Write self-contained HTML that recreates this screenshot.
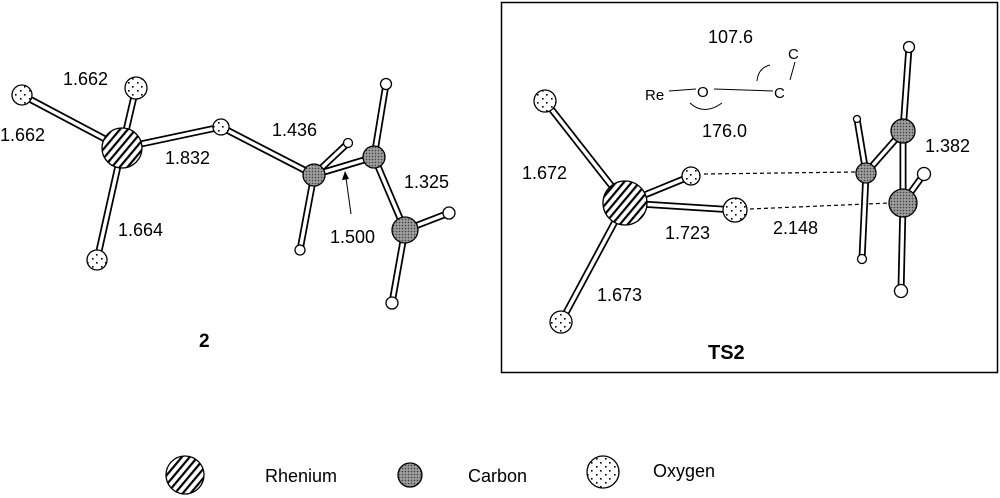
<!DOCTYPE html>
<html><head><meta charset="utf-8"><style>
html,body{margin:0;padding:0;background:#fff;}
svg{display:block;}
text{font-family:"Liberation Sans",sans-serif;font-size:18px;fill:#000;}
.b{stroke:#000;stroke-width:7;stroke-linecap:round;}
.bw{stroke:#fff;stroke-width:3.5;stroke-linecap:round;}
</style></head><body>
<svg width="1000" height="498" viewBox="0 0 1000 498" xmlns="http://www.w3.org/2000/svg">
<defs>
<pattern id="hatch" width="6" height="6" patternUnits="userSpaceOnUse" patternTransform="rotate(-50)">
<rect width="6" height="6" fill="#fff"/><rect width="6" height="2.2" fill="#000"/></pattern>
<pattern id="grey" width="3" height="3" patternUnits="userSpaceOnUse">
<rect width="3" height="3" fill="#888"/><rect width="1" height="1" fill="#444"/><rect x="1.5" y="1.5" width="1" height="1" fill="#ddd"/></pattern>
<pattern id="dots" width="9" height="8" patternUnits="userSpaceOnUse">
<rect width="9" height="8" fill="#fff"/><rect x="2" y="2" width="1.6" height="1.6" fill="#000"/><rect x="6" y="6" width="1.6" height="1.6" fill="#000"/></pattern>
</defs>
<g id="left">
<g class="b">
<line x1="22" y1="95" x2="122" y2="148"/><line x1="136" y1="88" x2="122" y2="148"/>
<line x1="97" y1="260" x2="122" y2="148"/><line x1="122" y1="148" x2="221" y2="127"/>
<line x1="221" y1="127" x2="314" y2="175"/><line x1="314" y1="175" x2="348" y2="143"/>
<line x1="314" y1="175" x2="300" y2="250"/><line x1="314" y1="175" x2="374" y2="157"/>
<line x1="374" y1="157" x2="386" y2="84"/><line x1="374" y1="157" x2="405" y2="230"/>
<line x1="405" y1="230" x2="449" y2="213"/><line x1="405" y1="230" x2="392" y2="303"/>
</g>
<g class="bw">
<line x1="22" y1="95" x2="122" y2="148"/><line x1="136" y1="88" x2="122" y2="148"/>
<line x1="97" y1="260" x2="122" y2="148"/><line x1="122" y1="148" x2="221" y2="127"/>
<line x1="221" y1="127" x2="314" y2="175"/><line x1="314" y1="175" x2="348" y2="143"/>
<line x1="314" y1="175" x2="300" y2="250"/><line x1="314" y1="175" x2="374" y2="157"/>
<line x1="374" y1="157" x2="386" y2="84"/><line x1="374" y1="157" x2="405" y2="230"/>
<line x1="405" y1="230" x2="449" y2="213"/><line x1="405" y1="230" x2="392" y2="303"/>
</g>
<g stroke="#000" stroke-width="1.3">
<circle cx="122" cy="148" r="20" fill="url(#hatch)"/>
<circle cx="136" cy="88" r="11" fill="url(#dots)"/>
<circle cx="22" cy="95" r="10" fill="url(#dots)"/>
<circle cx="97" cy="260" r="10" fill="url(#dots)"/>
<circle cx="221" cy="127" r="8" fill="url(#dots)"/>
<circle cx="314" cy="175" r="11" fill="url(#grey)"/>
<circle cx="374" cy="157" r="11" fill="url(#grey)"/>
<circle cx="405" cy="230" r="13" fill="url(#grey)"/>
<circle cx="348" cy="143" r="4.5" fill="#fff"/><circle cx="300" cy="250" r="5" fill="#fff"/>
<circle cx="386" cy="84" r="5.5" fill="#fff"/><circle cx="449" cy="213" r="6" fill="#fff"/>
<circle cx="392" cy="303" r="6" fill="#fff"/>
</g>
<line x1="351" y1="214" x2="346" y2="178" stroke="#000" stroke-width="1"/>
<polygon points="345,171 342,180 349,179" fill="#000"/>
<text x="63" y="85">1.662</text><text x="0" y="141">1.662</text>
<text x="165" y="164">1.832</text><text x="118" y="236">1.664</text>
<text x="272" y="136">1.436</text><text x="330" y="243">1.500</text>
<text x="404" y="188">1.325</text>
<text x="199" y="347" font-weight="bold" style="font-size:19px">2</text>
</g>
<rect x="501.5" y="2.5" width="496" height="370" fill="none" stroke="#000" stroke-width="1.5"/>
<g id="right">
<g stroke="#000" stroke-width="1.2" stroke-dasharray="4,3">
<line x1="704" y1="174" x2="856" y2="172"/><line x1="750" y1="209" x2="890" y2="203"/>
</g>
<g class="b">
<line x1="545" y1="101" x2="625" y2="203"/><line x1="625" y1="203" x2="691" y2="176"/>
<line x1="625" y1="203" x2="735" y2="210"/><line x1="625" y1="203" x2="561" y2="322"/>
<line x1="866" y1="173" x2="857" y2="119"/><line x1="866" y1="173" x2="862" y2="259"/>
<line x1="866" y1="173" x2="903" y2="131"/><line x1="903" y1="131" x2="909" y2="47"/>
<line x1="903" y1="131" x2="903" y2="203"/><line x1="903" y1="203" x2="924" y2="174"/>
<line x1="903" y1="203" x2="901" y2="291"/>
</g>
<g class="bw">
<line x1="545" y1="101" x2="625" y2="203"/><line x1="625" y1="203" x2="691" y2="176"/>
<line x1="625" y1="203" x2="735" y2="210"/><line x1="625" y1="203" x2="561" y2="322"/>
<line x1="866" y1="173" x2="857" y2="119"/><line x1="866" y1="173" x2="862" y2="259"/>
<line x1="866" y1="173" x2="903" y2="131"/><line x1="903" y1="131" x2="909" y2="47"/>
<line x1="903" y1="131" x2="903" y2="203"/><line x1="903" y1="203" x2="924" y2="174"/>
<line x1="903" y1="203" x2="901" y2="291"/>
</g>
<g stroke="#000" stroke-width="1.3">
<circle cx="625" cy="203" r="22" fill="url(#hatch)"/>
<circle cx="545" cy="101" r="11" fill="url(#dots)"/>
<circle cx="691" cy="176" r="9" fill="url(#dots)"/>
<circle cx="735" cy="210" r="12" fill="url(#dots)"/>
<circle cx="561" cy="322" r="11" fill="url(#dots)"/>
<circle cx="866" cy="173" r="10" fill="url(#grey)"/>
<circle cx="903" cy="131" r="12" fill="url(#grey)"/>
<circle cx="903" cy="203" r="14" fill="url(#grey)"/>
<circle cx="857" cy="119" r="3.5" fill="#fff"/><circle cx="862" cy="259" r="4.5" fill="#fff"/>
<circle cx="909" cy="47" r="5.5" fill="#fff"/><circle cx="924" cy="174" r="6.5" fill="#fff"/>
<circle cx="901" cy="291" r="6.5" fill="#fff"/>
</g>
<text x="522" y="179">1.672</text><text x="665" y="239">1.723</text>
<text x="597" y="301">1.673</text><text x="773" y="234">2.148</text>
<text x="925" y="152">1.382</text>
<text x="708" y="43">107.6</text><text x="702" y="137">176.0</text>
<text x="645" y="100" style="font-size:15px">Re</text>
<text x="697" y="97" style="font-size:15px">O</text>
<text x="774" y="98" style="font-size:15px">C</text>
<text x="788" y="59" style="font-size:15px">C</text>
<g stroke="#000" stroke-width="1" fill="none">
<line x1="669" y1="91" x2="696" y2="89"/><line x1="714" y1="89" x2="773" y2="91"/>
<line x1="790" y1="80" x2="795" y2="62"/>
<path d="M690,103 Q704,116 722,103"/>
<path d="M757,81 Q758,68 770,65"/>
</g>
<text x="708" y="359" font-weight="bold" style="font-size:20px">TS2</text>
</g>
<g stroke="#000" stroke-width="1.3">
<circle cx="185" cy="475" r="19" fill="url(#hatch)"/>
<circle cx="410" cy="475" r="12" fill="url(#grey)"/>
<circle cx="603" cy="472" r="16" fill="url(#dots)"/>
</g>
<text x="265" y="482">Rhenium</text>
<text x="468" y="482">Carbon</text>
<text x="653" y="477">Oxygen</text>
</svg>
</body></html>
